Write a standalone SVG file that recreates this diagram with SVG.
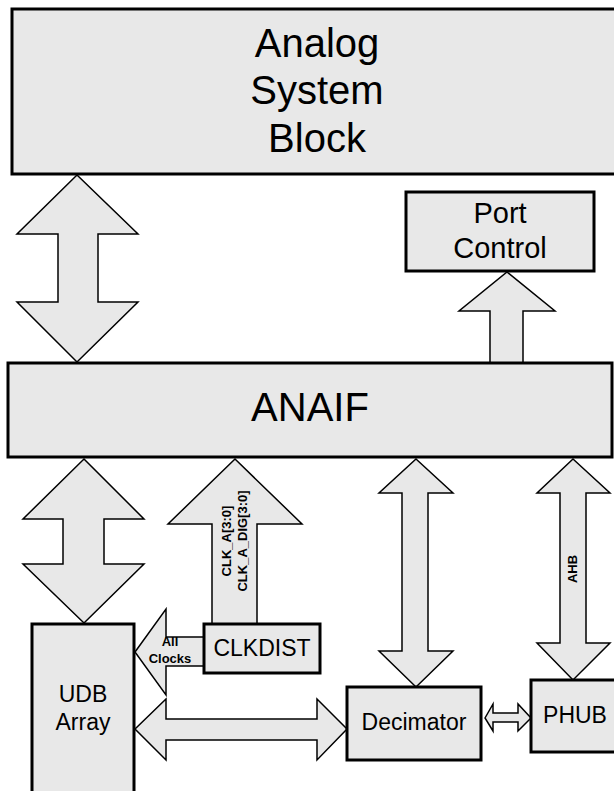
<svg xmlns="http://www.w3.org/2000/svg" width="614" height="791" viewBox="0 0 614 791">
<style>
.box{fill:#e8e8e8;stroke:#000;stroke-width:3}
.arr{fill:#e8e8e8;stroke:#000;stroke-width:1.5;stroke-linejoin:miter}
.t{font-family:"Liberation Sans",Arial,sans-serif;fill:#000;text-anchor:middle}
.lb{font-family:"Liberation Sans",Arial,sans-serif;font-weight:bold;font-size:13px;fill:#000;text-anchor:middle}
</style>
<rect width="614" height="791" fill="#fff"/>
<g id="connectors">
<polygon class="arr" points="77,175 138,234 98,234 98,302 138,302 77,362 17,302 58,302 58,234 17,234"/>
<polygon class="arr" points="507,272 555,311 523,311 523,363 490,363 490,311 459,311"/>
<polygon class="arr" points="84,459 144,519 104,519 104,564 144,564 84,623 23,564 63,564 63,519 23,519"/>
<polygon class="arr" points="235,459 302,524 257,524 257,624 212,624 212,524 168,524"/>
<polygon class="arr" points="416,459 453,493 428,493 428,651 453,651 416,687 379,651 402,651 402,493 379,493"/>
<polygon class="arr" points="573,459 610,493 586,493 586,643 610,643 573,680 537,643 560,643 560,493 537,493"/>
<polygon class="arr" points="135,652 166,609 166,637 204,637 204,666 166,666 166,695"/>
<polygon class="arr" points="135,729 166,699 166,719 317,719 317,699 347,729 317,760 317,740 166,740 166,760"/>
<polygon class="arr" points="485,718 493,704 493,713 518,713 518,704 531,718 518,731 518,722 493,722 493,731"/>
<text class="lb" transform="translate(231,541) rotate(-90)">CLK_A[3:0]</text>
<text class="lb" transform="translate(247,541) rotate(-90)">CLK_A_DIG[3:0]</text>
<text class="lb" transform="translate(577,569) rotate(-90)">AHB</text>
<text class="lb" x="170" y="646">All</text>
<text class="lb" x="170" y="663">Clocks</text>
</g>
<g id="asb">
<rect class="box" x="12" y="9" width="612" height="165"/>
<text class="t" font-size="40" x="317" y="57">Analog</text>
<text class="t" font-size="40" x="317" y="104">System</text>
<text class="t" font-size="40" x="317" y="152">Block</text>
</g>
<g id="portcontrol">
<rect class="box" x="406" y="192" width="188" height="79"/>
<text class="t" font-size="29" x="500" y="223">Port</text>
<text class="t" font-size="29" x="500" y="258">Control</text>
</g>
<g id="anaif">
<rect class="box" x="8" y="363" width="604" height="94"/>
<text class="t" font-size="40" x="310" y="421">ANAIF</text>
</g>
<g id="udb">
<rect class="box" x="32" y="624" width="102" height="180"/>
<text class="t" font-size="23" x="83" y="702">UDB</text>
<text class="t" font-size="23" x="83" y="730">Array</text>
</g>
<g id="clkdist">
<rect class="box" x="204" y="624" width="116" height="49"/>
<text class="t" font-size="23" x="262" y="656">CLKDIST</text>
</g>
<g id="decimator">
<rect class="box" x="347" y="687" width="134" height="73"/>
<text class="t" font-size="23" x="414" y="730">Decimator</text>
</g>
<g id="phub">
<rect class="box" x="531" y="680" width="90" height="72"/>
<text class="t" font-size="23" x="575" y="723">PHUB</text>
</g>
</svg>
